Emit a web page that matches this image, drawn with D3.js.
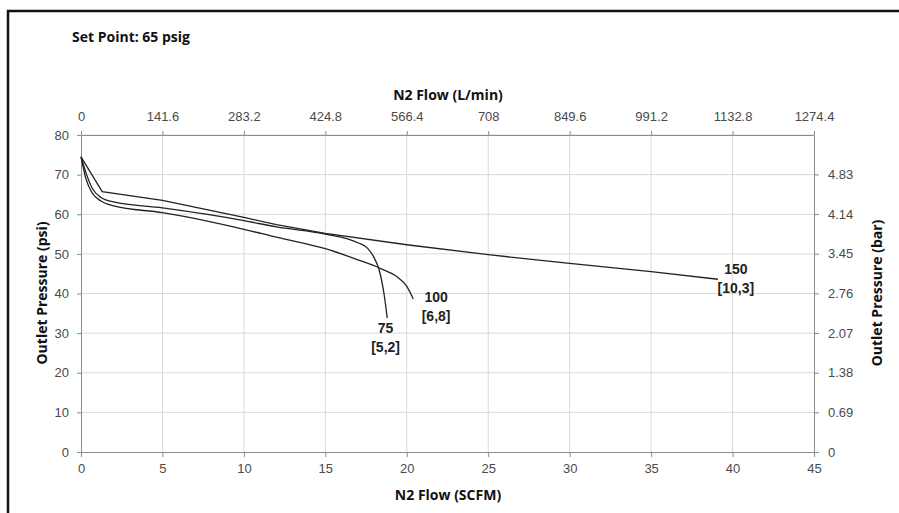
<!DOCTYPE html>
<html>
<head>
<meta charset="utf-8">
<script src="https://cdn.jsdelivr.net/npm/d3@7"></script>
<style>
  body { margin: 0; background: #fff; }
  svg { display: block; font-family: "Open Sans", "Noto Sans", sans-serif; }
  .tick text { fill: #4a4a4a; font-size: 13px; }
  .axis path, .axis line { stroke: #8c8c8c; }
  .grid line { stroke: #d9d9d9; }
  .ttl { font-weight: bold; fill: #111; font-size: 14px; }
  .lab { font-family: "Liberation Sans", Arial, sans-serif; font-weight: bold; fill: #222; font-size: 14px; }
</style>
</head>
<body>
<svg width="899" height="513"></svg>
<script>
// axis ticks
var scfmTicks = [0, 5, 10, 15, 20, 25, 30, 35, 40, 45];
var lminTicks = [0, 141.6, 283.2, 424.8, 566.4, 708, 849.6, 991.2, 1132.8, 1274.4];
var psiTicks = [0, 10, 20, 30, 40, 50, 60, 70, 80];
var barTicks = [0, 0.69, 1.38, 2.07, 2.76, 3.45, 4.14, 4.83];

// curves: [flow SCFM, outlet psi]
var curve75 = [[0, 74.5], [0.3, 70.5], [0.7, 66.5], [1.2, 64.3], [2, 63.1], [5, 61.6], [10, 58.4],
  [12, 56.8], [15, 55], [17, 52.8], [17.6, 51.4], [18, 49], [18.3, 46], [18.6, 40], [18.8, 33.8]];
var curve100 = [[0, 74.5], [0.3, 69], [0.7, 65.3], [1.2, 63.4], [2, 62.1], [5, 60.4], [10, 56.2],
  [12, 54.2], [15, 51.3], [17, 48.5], [18.4, 46.3], [19.4, 44.2], [20, 41.8], [20.4, 38.6]];
var curve150 = [[0, 74.5], [1.3, 65.7], [5, 63.5], [10, 59.2], [12, 57.4], [15, 55.2], [20, 52.3],
  [25, 49.8], [30, 47.6], [35, 45.5], [39.1, 43.6]];

var labels = [
  { lines: ["75", "[5,2]"], at: [18.7, 30] },
  { lines: ["100", "[6,8]"], at: [21.8, 37.8] },
  { lines: ["150", "[10,3]"], at: [40.2, 44.8] }
];

var svg = d3.select('svg');
var m = { left: 81, right: 814, top: 135, bottom: 452 };

var x = d3.scaleLinear().domain([0, 45]).range([m.left, m.right]);
var xTop = d3.scaleLinear().domain([0, 1274.4]).range([m.left, m.right]);
var y = d3.scaleLinear().domain([0, 80]).range([m.bottom, m.top]);
var yBar = d3.scaleLinear().domain([0, 80 * 0.0689476]).range([m.bottom, m.top]);

// frame
svg.append('rect')
  .attr('x', 8).attr('y', 11).attr('width', 1000).attr('height', 1000)
  .attr('fill', 'none').attr('stroke', '#111').attr('stroke-width', 2.5);

// grid
var grid = svg.append('g').attr('class', 'grid');
grid.selectAll('line.v').data(scfmTicks.slice(1, -1)).enter().append('line')
  .attr('x1', x).attr('x2', x).attr('y1', m.top).attr('y2', m.bottom);
grid.selectAll('line.h').data(psiTicks.slice(1)).enter().append('line')
  .attr('x1', m.left).attr('x2', m.right).attr('y1', y).attr('y2', y);

// axes
svg.append('g').attr('class', 'axis')
  .attr('transform', 'translate(0,' + m.bottom + ')')
  .call(d3.axisBottom(x).tickValues(scfmTicks).tickSize(5).tickSizeOuter(0).tickPadding(7));
svg.append('g').attr('class', 'axis')
  .attr('transform', 'translate(0,' + m.top + ')')
  .call(d3.axisTop(xTop).tickValues(lminTicks).tickFormat(function (d) { return String(d); })
    .tickSize(4).tickSizeOuter(0).tickPadding(10));
svg.append('g').attr('class', 'axis')
  .attr('transform', 'translate(' + m.left + ',0)')
  .call(d3.axisLeft(y).tickValues(psiTicks).tickSize(4).tickSizeOuter(0).tickPadding(8));
svg.append('g').attr('class', 'axis')
  .attr('transform', 'translate(' + m.right + ',0)')
  .call(d3.axisRight(yBar).tickValues(barTicks).tickFormat(function (d) { return String(d); })
    .tickSize(5).tickSizeOuter(0).tickPadding(9));

// curves
var smooth = d3.line()
  .x(function (d) { return x(d[0]); })
  .y(function (d) { return y(d[1]); })
  .curve(d3.curveMonotoneX);
var straight = d3.line()
  .x(function (d) { return x(d[0]); })
  .y(function (d) { return y(d[1]); });

svg.append('g').selectAll('path')
  .data([[curve75, smooth], [curve100, smooth], [curve150, straight]])
  .enter().append('path')
  .attr('d', function (d) { return d[1](d[0]); })
  .attr('fill', 'none')
  .attr('stroke', '#222')
  .attr('stroke-width', 1.3);

// curve labels
var lab = svg.append('g').selectAll('text').data(labels).enter().append('text')
  .attr('class', 'lab')
  .attr('text-anchor', 'middle')
  .attr('x', function (d) { return x(d.at[0]); })
  .attr('y', function (d) { return y(d.at[1]); });
lab.selectAll('tspan').data(function (d) { return d.lines.map(function (t) { return { t: t, x: x(d.at[0]) }; }); })
  .enter().append('tspan')
  .attr('x', function (d) { return d.x; })
  .attr('dy', function (d, i) { return i ? 19 : 0; })
  .text(function (d) { return d.t; });

// titles
svg.append('text').attr('class', 'ttl').attr('x', 72).attr('y', 42).text('Set Point: 65 psig');
svg.append('text').attr('class', 'ttl').attr('text-anchor', 'middle')
  .attr('x', 448).attr('y', 100).text('N2 Flow (L/min)');
svg.append('text').attr('class', 'ttl').attr('text-anchor', 'middle')
  .attr('x', 448).attr('y', 500).text('N2 Flow (SCFM)');
svg.append('text').attr('class', 'ttl').attr('text-anchor', 'middle')
  .attr('transform', 'translate(47,293) rotate(-90)').text('Outlet Pressure (psi)');
svg.append('text').attr('class', 'ttl').attr('text-anchor', 'middle')
  .attr('transform', 'translate(882,293) rotate(-90)').text('Outlet Pressure (bar)');
</script>
</body>
</html>
